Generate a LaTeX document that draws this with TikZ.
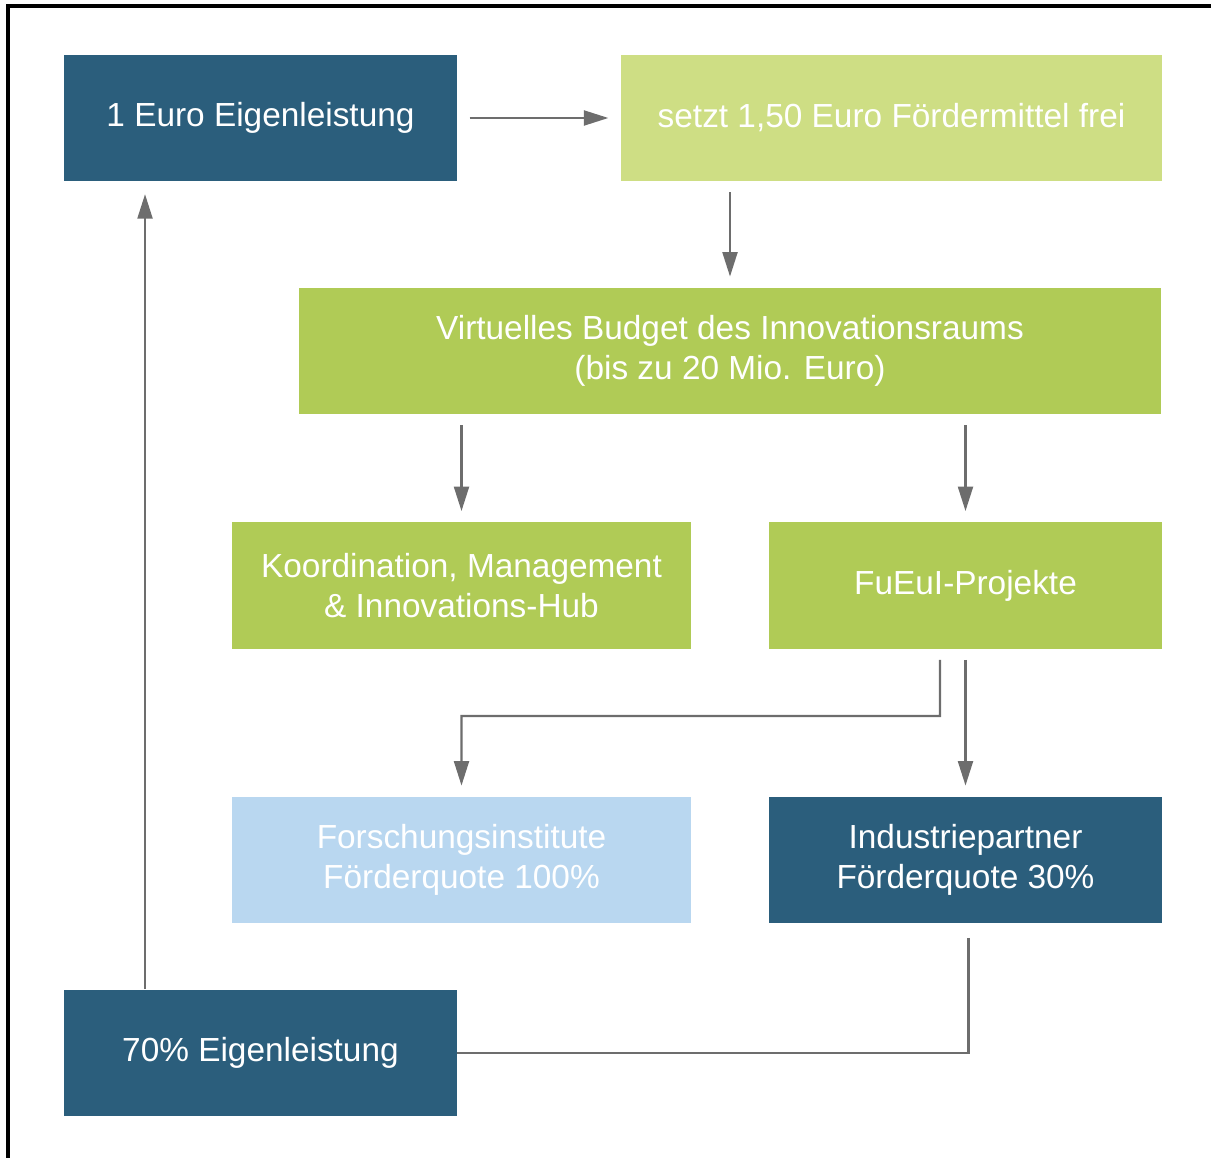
\documentclass[tikz,border=0pt]{standalone}
\usepackage{fontspec}
\setmainfont{Liberation Sans}
\usetikzlibrary{arrows.meta}

\definecolor{dunkelblau}{HTML}{2B5E7C}
\definecolor{hellgruen}{HTML}{CEDE84}
\definecolor{gruen}{HTML}{B0CB56}
\definecolor{hellblau}{HTML}{B9D7F0}
\definecolor{pfeilgrau}{HTML}{6D6D6D}

\tikzset{
  kasten/.style={rectangle,inner sep=0pt,minimum height=2.54cm,align=center,
    text=white,font=\fontsize{19}{23}\selectfont},
  pfeil/.style={draw=pfeilgrau,line width=1.4pt,-{Triangle[length=14pt,width=8.5pt]},
    shorten >=6pt},
  linie/.style={draw=pfeilgrau,line width=1.4pt}
}

\begin{document}
\begin{tikzpicture}[x=0.02cm,y=-0.02cm]
    \useasboundingbox (0,0) rectangle (1211,1158);
    \draw[line width=2pt] (8,1158) -- (8,6) -- (1211,6);
    \node (eigen) at (260.5,118) [kasten,fill=dunkelblau,minimum width=7.86cm] {1 Euro Eigenleistung};
    \node (frei) at (891.5,118) [kasten,fill=hellgruen,minimum width=10.82cm] {setzt 1,50 Euro Fördermittel frei};
    \node (budget) at (730,351) [kasten,fill=gruen,minimum width=17.24cm] {Virtuelles Budget des Innovationsraums\\(bis zu 20 Mio. Euro)};
    \node (koord) at (461.5,585.5) [kasten,fill=gruen,minimum width=9.18cm] {Koordination, Management\\\& Innovations-Hub};
    \node (fueui) at (965.5,585.5) [kasten,fill=gruen,minimum width=7.86cm] {FuEuI-Projekte};
    \node (forsch) at (461.5,860) [kasten,fill=hellblau,minimum width=9.18cm] {Forschungsinstitute\\Förderquote 100\%};
    \node (industrie) at (965.5,860) [kasten,fill=dunkelblau,minimum width=7.86cm] {Industriepartner\\Förderquote 30\%};
    \node (siebzig) at (260.5,1053) [kasten,fill=dunkelblau,minimum width=7.86cm] {70\% Eigenleistung};
    \coordinate (knick) at (940,716);
    \draw[pfeil,shorten <=7pt,shorten >=7pt] (eigen) -- (frei);
    \draw[pfeil,shorten <=6pt] (frei.south -| budget) -- (budget.north);
    \draw[pfeil,shorten <=6pt] (budget.south -| koord) -- (koord.north);
    \draw[pfeil,shorten <=6pt] (budget.south -| fueui) -- (fueui.north);
    \draw[pfeil,shorten <=6pt] ([xshift=-0.51cm]fueui.south) -- (knick) -| (forsch.north);
    \draw[pfeil,shorten <=6pt] (fueui.south) -- (industrie.north);
    \draw[linie,shorten <=8pt] ([xshift=0.06cm]industrie.south) |- (siebzig.east);
    \draw[pfeil,shorten >=7pt] ([xshift=-2.31cm]siebzig.north) -- ([xshift=-2.31cm]eigen.south);
\end{tikzpicture}
\end{document}
